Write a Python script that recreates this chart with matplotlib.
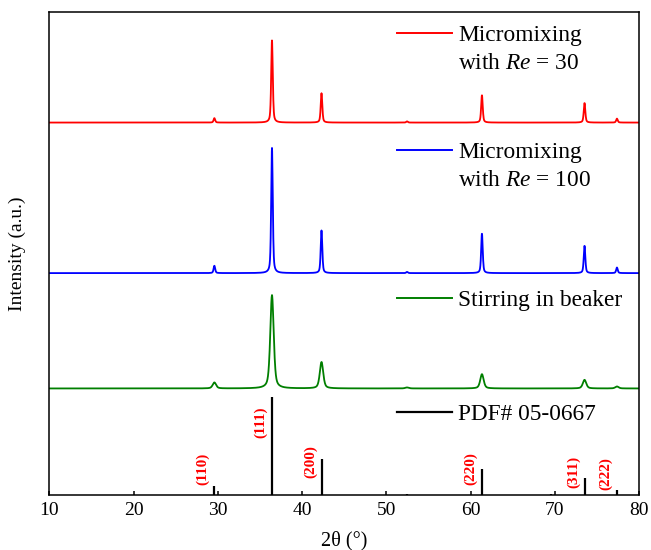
import numpy as np
import matplotlib.pyplot as plt

plt.rcParams["font.family"] = ["Liberation Serif", "DejaVu Serif"]
plt.rcParams["mathtext.fontset"] = "custom"
plt.rcParams["mathtext.it"] = "Liberation Serif:italic"
plt.rcParams["mathtext.rm"] = "Liberation Serif"

# Cu2O reference card (PDF# 05-0667)
pdf_pos = [29.58, 36.42, 42.30, 52.45, 61.35, 69.60, 73.53, 77.38]
pdf_int = [9, 100, 37, 1.5, 27, 1.5, 17, 5]
hkl_pos = [29.58, 36.42, 42.30, 61.35, 73.53, 77.38]
hkl_lab = ["(110)", "(111)", "(200)", "(220)", "(311)", "(222)"]

# peak heights of the three samples at the card positions
re30_h = [4.5, 84, 30, 1.2, 28, 0.0, 20, 4]
re100_h = [7.5, 128, 43.6, 1.2, 40.5, 0.0, 28, 5.7]
beaker_h = [6.1, 95.5, 27, 1.0, 14.6, 0.0, 8.8, 2]
fwhm = {"re30": 0.22, "re100": 0.22, "beaker": 0.48}
offsets = {"re30": 381, "re100": 227, "beaker": 109}

two_theta = np.linspace(10, 80, 3501)


def pattern(heights, width):
    y = np.zeros_like(two_theta)
    for p, h in zip(pdf_pos, heights):
        d = (two_theta - p) / (width / 2)
        y += h * (0.5 / (1 + d ** 2) + 0.5 * np.exp(-np.log(2) * d ** 2))
    return y


fig, ax = plt.subplots(figsize=(6.51, 5.5), dpi=100)
fig.subplots_adjust(left=0.076, right=0.9816, bottom=0.1, top=0.978)

ax.plot(two_theta, pattern(re30_h, fwhm["re30"]) + offsets["re30"],
        color="#FF0000", lw=1.3)
ax.plot(two_theta, pattern(re100_h, fwhm["re100"]) + offsets["re100"],
        color="#0000FF", lw=1.3)
ax.plot(two_theta, pattern(beaker_h, fwhm["beaker"]) + offsets["beaker"],
        color="#007F00", lw=1.3)
ax.vlines(pdf_pos, 0, pdf_int, color="black", lw=1.6)

# Miller indices next to the reference sticks
label_y = [10, 58, 17, 10, 7, 5]
for p, lab, yl in zip(hkl_pos, hkl_lab, label_y):
    ax.text(p - 1.35, yl, lab, rotation=90, color="red", fontsize=11,
            fontweight="bold", ha="center", va="bottom")

# key: short line + label, handle aligned with the first text line
key = [
    ("#FF0000", ["Micromixing", "with $\\mathit{Re}$ = 30"], 0.9565),
    ("#0000FF", ["Micromixing", "with $\\mathit{Re}$ = 100"], 0.714),
    ("#007F00", ["Stirring in beaker"], 0.408),
    ("black", ["PDF# 05-0667"], 0.172),
]
line_step = 28 / 483
for col, lines, yy in key:
    ax.plot([0.590, 0.682], [yy, yy], color=col, lw=1.6 if col == "black" else 1.4,
            transform=ax.transAxes)
    for i, txt in enumerate(lines):
        ax.text(0.693, yy - i * line_step, txt, transform=ax.transAxes,
                fontsize=16.8, va="center_baseline", ha="left")

ax.set_xlim(10, 80)
ax.set_ylim(0, 494)
ax.set_xticks(np.arange(10, 81, 10))
ax.set_yticks([])
ax.tick_params(axis="x", direction="in", length=3, width=1.1, labelsize=14, pad=5)
for s in ax.spines.values():
    s.set_linewidth(1.1)
ax.set_xlabel("2θ (°)", fontsize=14.5, labelpad=9)
ax.set_ylabel("Intensity (a.u.)", fontsize=14, labelpad=17)

fig.savefig("out.png", dpi=100)
